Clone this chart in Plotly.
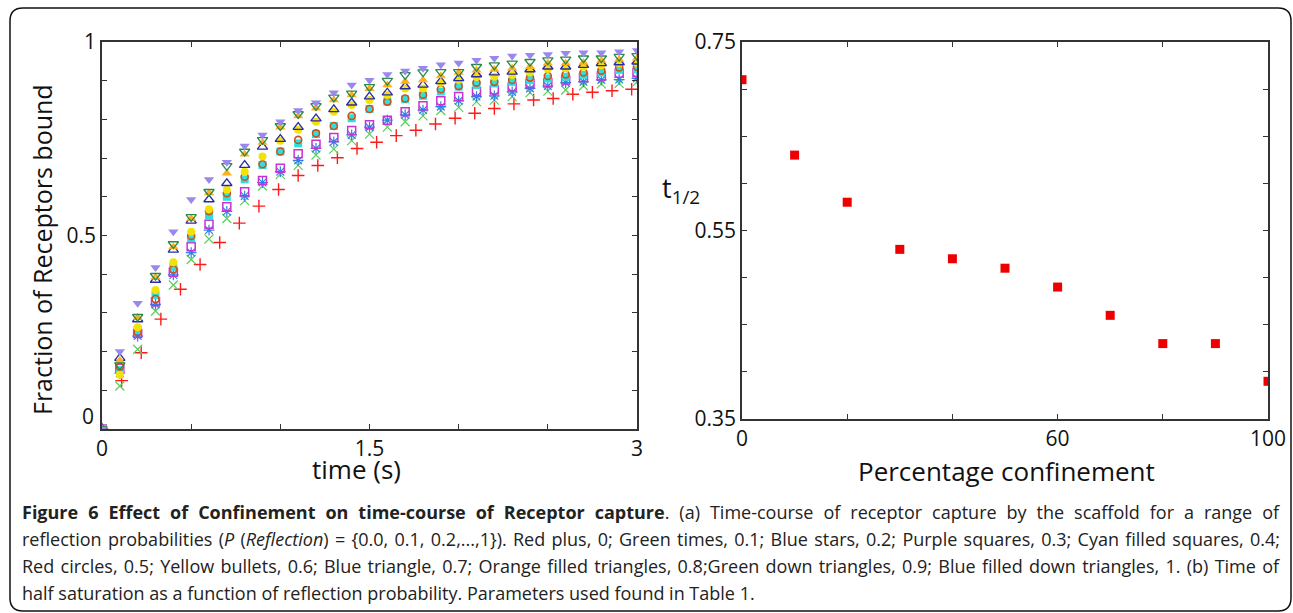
import plotly.graph_objects as go

W, H = 1293, 613

# ---------------- data: panel (a) ----------------
time = [0.0, 0.1, 0.2, 0.3, 0.4, 0.5, 0.6, 0.7, 0.8, 0.9, 1.0, 1.1, 1.2, 1.3, 1.4, 1.5,
        1.6, 1.7, 1.8, 1.9, 2.0, 2.1, 2.2, 2.3, 2.4, 2.5, 2.6, 2.7, 2.8, 2.9, 3.0]
time_red = [0.0, 0.11, 0.22, 0.33, 0.44, 0.55, 0.66, 0.77, 0.88, 0.99, 1.10, 1.21, 1.32, 1.43,
            1.54, 1.65, 1.76, 1.87, 1.98, 2.09, 2.20, 2.31, 2.42, 2.53, 2.64, 2.75, 2.86, 2.97]

refl_0 = [0, 0.125, 0.197, 0.284, 0.361, 0.425, 0.482, 0.532, 0.576, 0.619, 0.655, 0.681, 0.701,
          0.725, 0.741, 0.758, 0.772, 0.788, 0.803, 0.816, 0.828, 0.840, 0.850, 0.854, 0.865,
          0.870, 0.874, 0.878]
refl_01 = [0, 0.111, 0.206, 0.305, 0.372, 0.438, 0.491, 0.544, 0.590, 0.628, 0.658, 0.681, 0.708,
           0.723, 0.745, 0.762, 0.780, 0.794, 0.809, 0.823, 0.831, 0.846, 0.850, 0.859, 0.869,
           0.873, 0.876, 0.887, 0.892, 0.893, 0.897]
refl_02 = [0, 0.144, 0.240, 0.322, 0.398, 0.456, 0.514, 0.562, 0.602, 0.637, 0.665, 0.694, 0.725,
           0.742, 0.760, 0.780, 0.798, 0.812, 0.824, 0.833, 0.848, 0.859, 0.861, 0.871, 0.880,
           0.886, 0.895, 0.897, 0.902, 0.903, 0.906]
refl_03 = [0, 0.157, 0.247, 0.329, 0.405, 0.471, 0.529, 0.574, 0.613, 0.642, 0.674, 0.711, 0.736,
           0.753, 0.771, 0.786, 0.798, 0.820, 0.835, 0.848, 0.859, 0.872, 0.876, 0.884, 0.893,
           0.895, 0.902, 0.908, 0.912, 0.919, 0.921]
refl_04 = [0, 0.152, 0.256, 0.346, 0.419, 0.493, 0.550, 0.600, 0.645, 0.682, 0.717, 0.738, 0.762,
           0.783, 0.803, 0.827, 0.846, 0.852, 0.861, 0.872, 0.885, 0.889, 0.893, 0.897, 0.902,
           0.906, 0.910, 0.915, 0.921, 0.928, 0.929]
refl_05 = [0, 0.161, 0.250, 0.336, 0.413, 0.499, 0.563, 0.609, 0.652, 0.684, 0.717, 0.747, 0.764,
           0.783, 0.809, 0.827, 0.846, 0.854, 0.864, 0.878, 0.886, 0.895, 0.897, 0.902, 0.908,
           0.912, 0.916, 0.921, 0.926, 0.934, 0.936]
refl_06 = [0, 0.140, 0.263, 0.359, 0.431, 0.510, 0.568, 0.618, 0.665, 0.704, 0.745, 0.773, 0.794,
           0.820, 0.837, 0.850, 0.863, 0.880, 0.880, 0.895, 0.902, 0.910, 0.910, 0.915, 0.921,
           0.930, 0.932, 0.936, 0.940, 0.945, 0.946]
refl_07 = [0, 0.183, 0.283, 0.385, 0.463, 0.538, 0.593, 0.635, 0.682, 0.729, 0.749, 0.780, 0.802,
           0.826, 0.843, 0.859, 0.869, 0.885, 0.889, 0.898, 0.906, 0.916, 0.921, 0.923, 0.929,
           0.936, 0.936, 0.940, 0.945, 0.947, 0.949]
refl_08 = [0, 0.177, 0.288, 0.392, 0.470, 0.544, 0.610, 0.661, 0.710, 0.740, 0.780, 0.809, 0.829,
           0.850, 0.863, 0.879, 0.889, 0.898, 0.902, 0.912, 0.921, 0.927, 0.929, 0.932, 0.936,
           0.945, 0.945, 0.947, 0.952, 0.955, 0.958]
refl_09 = [0, 0.165, 0.290, 0.396, 0.478, 0.548, 0.613, 0.680, 0.717, 0.747, 0.783, 0.814, 0.835,
           0.857, 0.867, 0.884, 0.900, 0.915, 0.922, 0.923, 0.923, 0.936, 0.940, 0.945, 0.949,
           0.953, 0.955, 0.958, 0.958, 0.962, 0.964]
refl_1 = [0, 0.200, 0.325, 0.417, 0.510, 0.593, 0.645, 0.689, 0.731, 0.760, 0.794, 0.823, 0.843,
          0.869, 0.889, 0.901, 0.916, 0.925, 0.932, 0.941, 0.946, 0.953, 0.958, 0.964, 0.966,
          0.968, 0.971, 0.972, 0.972, 0.975, 0.978]

# ---------------- data: panel (b) ----------------
confinement = [0, 10, 20, 30, 40, 50, 60, 70, 80, 90, 100]
t_half = [0.710, 0.630, 0.580, 0.530, 0.520, 0.510, 0.490, 0.460, 0.430, 0.430, 0.390]

# tick values / labels
a_xticks = [0, 0.5, 1.0, 1.5, 2.0, 2.5, 3.0]
a_xlabels = ["0", " ", " ", "1.5", " ", " ", "3"]
a_yticks = [0, 0.1, 0.2, 0.3, 0.4, 0.5, 0.6, 0.7, 0.8, 0.9, 1.0]
a_ylabels = [" ", " ", " ", " ", " ", "0.5", " ", " ", " ", " ", "1"]
b_xticks = [0, 20, 40, 60, 80, 100]
b_xlabels = ["0", " ", " ", "60", " ", "100"]
b_yticks = [0.35, 0.40, 0.45, 0.50, 0.55, 0.60, 0.65, 0.70, 0.75]
b_ylabels = ["0.35", " ", " ", " ", "0.55", " ", " ", " ", "0.75"]

caption_lines = [
    "<b>Figure 6 Effect of Confinement on time-course of Receptor capture</b>. (a) Time-course of receptor capture by the scaffold for a range of",
    "reflection probabilities (<i>P</i> (<i>Reflection</i>) = {0.0, 0.1, 0.2,...,1}). Red plus, 0; Green times, 0.1; Blue stars, 0.2; Purple squares, 0.3; Cyan filled squares, 0.4;",
    "Red circles, 0.5; Yellow bullets, 0.6; Blue triangle, 0.7; Orange filled triangles, 0.8;Green down triangles, 0.9; Blue filled down triangles, 1. (b) Time of",
    "half saturation as a function of reflection probability. Parameters used found in Table 1.",
]
caption_justified = [True, True, True, False]

# ---------------- styles ----------------
series = [
    (time_red, refl_0, "cross-thin-open", "#ff1a1a", 9, 1.4),
    (time, refl_01, "x-thin-open", "#5ccf5c", 9, 1.2),
    (time, refl_02, "asterisk-open", "#2f7fe8", 9, 1.2),
    (time, refl_03, "square-open", "#c832d2", 8, 1.5),
    (time, refl_04, "square", "#2de0e0", 8, 0),
    (time, refl_05, "circle-open", "#d0501a", 7, 1.6),
    (time, refl_06, "circle", "#f2e20a", 8, 0),
    (time, refl_07, "triangle-up-open", "#2a2aa8", 9, 1.3),
    (time, refl_08, "triangle-up", "#ffb01a", 9, 0),
    (time, refl_09, "triangle-down-open", "#2a8a4a", 9, 1.3),
    (time, refl_1, "triangle-down", "#9a88ee", 9, 0),
]

FONT = "Open Sans"

def px_x(x):
    return x / W

def px_y(y):
    return 1 - y / H

fig = go.Figure()
for xs, ys, sym, col, size, lw in series:
    fig.add_trace(go.Scatter(
        x=xs, y=ys, mode="markers", xaxis="x", yaxis="y",
        marker=dict(symbol=sym, color=col, size=size,
                    line=dict(color=col, width=lw)),
        showlegend=False, hoverinfo="skip"))

fig.add_trace(go.Scatter(
    x=confinement, y=t_half, mode="markers", xaxis="x2", yaxis="y2",
    marker=dict(symbol="square", color="#ee0000", size=9, line=dict(width=0)),
    showlegend=False, hoverinfo="skip"))

axis_common = dict(showgrid=False, zeroline=False, showline=True, linecolor="#333333",
                   linewidth=1.5, mirror="ticks", ticks="inside", ticklen=5,
                   tickcolor="#333333", tickwidth=1, automargin=False,
                   tickfont=dict(family=FONT, size=21, color="#111111"))

fig.update_layout(
    width=W, height=H, autosize=False,
    margin=dict(l=0, r=0, t=0, b=0, pad=0, autoexpand=False),
    showlegend=False,
    paper_bgcolor="white", plot_bgcolor="white",
    xaxis=dict(domain=[px_x(102), px_x(637)], range=[0, 3], tickmode="array",
               tickvals=a_xticks, ticktext=a_xlabels, anchor="y", **axis_common),
    yaxis=dict(domain=[px_y(429), px_y(42)], range=[0, 1], tickmode="array",
               tickvals=a_yticks, ticktext=a_ylabels, anchor="x", **axis_common),
    xaxis2=dict(domain=[px_x(742), px_x(1268)], range=[0, 100], tickmode="array",
                tickvals=b_xticks, ticktext=b_xlabels, anchor="y2", **axis_common),
    yaxis2=dict(domain=[px_y(419), px_y(42)], range=[0.35, 0.75], tickmode="array",
                tickvals=b_yticks, ticktext=b_ylabels, anchor="x2", **axis_common),
)

ann = []
# y tick label "0" of panel (a) sits a little above the axis, as in the reference
ann.append(dict(x=px_x(96), y=px_y(416), xref="paper", yref="paper", text="0",
                showarrow=False, xanchor="right", yanchor="middle",
                font=dict(family=FONT, size=21, color="#111111")))
ann.append(dict(x=px_x(42), y=px_y(250), xref="paper", yref="paper",
                text="Fraction of Receptors bound", textangle=-90, showarrow=False,
                xanchor="center", yanchor="middle",
                font=dict(family=FONT, size=25, color="#111111")))
ann.append(dict(x=px_x(357), y=px_y(469), xref="paper", yref="paper", text="time (s)",
                showarrow=False, xanchor="center", yanchor="middle",
                font=dict(family=FONT, size=26, color="#111111")))
ann.append(dict(x=px_x(1006), y=px_y(471), xref="paper", yref="paper",
                text="Percentage confinement", showarrow=False, xanchor="center",
                yanchor="middle", font=dict(family=FONT, size=26, color="#111111")))
ann.append(dict(x=px_x(660), y=px_y(190), xref="paper", yref="paper",
                text="t<sub>1/2</sub>", showarrow=False, xanchor="left",
                yanchor="middle", font=dict(family=FONT, size=27, color="#111111")))

cap_y = [512, 539, 566, 593]
for line, yy, just in zip(caption_lines, cap_y, caption_justified):
    ann.append(dict(x=px_x(20), y=px_y(yy), xref="paper", yref="paper", text=line,
                    showarrow=False, xanchor="left", yanchor="middle", align="left",
                    name="justify" if just else "plain",
                    font=dict(family=FONT, size=18, color="#222222")))
fig.update_layout(annotations=ann)

# rounded border around the whole figure
x0, x1, y0, y1, r = 10, 1291, 8, 611, 13
pts = [
    ("M", [(x0 + r, y0)]),
    ("L", [(x1 - r, y0)]), ("Q", [(x1, y0), (x1, y0 + r)]),
    ("L", [(x1, y1 - r)]), ("Q", [(x1, y1), (x1 - r, y1)]),
    ("L", [(x0 + r, y1)]), ("Q", [(x0, y1), (x0, y1 - r)]),
    ("L", [(x0, y0 + r)]), ("Q", [(x0, y0), (x0 + r, y0)]),
]
path = ""
for cmd, ps in pts:
    path += cmd + " " + " ".join(f"{px_x(a):.5f},{px_y(b):.5f}" for a, b in ps) + " "
path += "Z"
fig.add_shape(type="path", path=path, xref="paper", yref="paper",
              line=dict(color="#111111", width=1.5), fillcolor="rgba(0,0,0,0)")

# justify the first three caption lines (spread the words to the right edge, x = 1278 px)
justify_js = """
var gd = document.getElementById('{plot_id}');
var starts = ['Figure 6 Effect', 'reflection probabilities', 'Red circles, 0.5'];
var target = 1258;
gd.querySelectorAll('text.annotation-text').forEach(function(t) {
  var s = t.textContent;
  var ok = starts.some(function(p) { return s.indexOf(p) === 0; });
  if (!ok) return;
  var w = t.getBBox().width;
  var n = (s.match(/ /g) || []).length;
  if (n > 0 && w < target) {
    t.style.wordSpacing = ((target - w) / n).toFixed(3) + 'px';
  }
});
"""

fig.write_html("out.html", post_script=justify_js)
